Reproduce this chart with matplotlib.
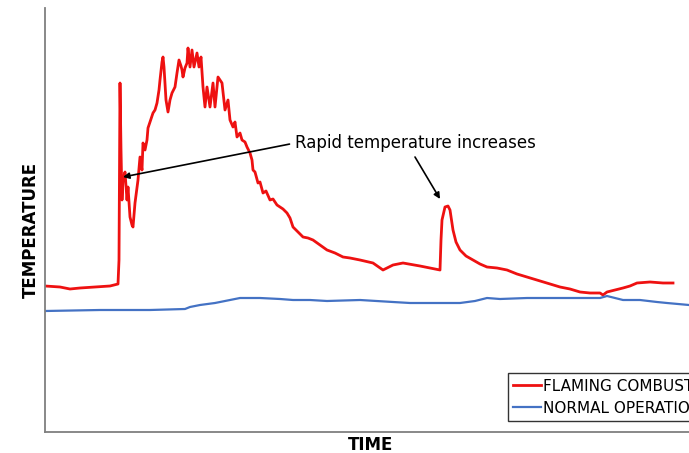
import matplotlib
matplotlib.use("Agg")
import matplotlib.pyplot as plt

# traced readings: time (arbitrary units) and temperature (arbitrary units)
FLAME_T = [0, 15, 25, 35, 50, 65, 73, 74, 75, 76, 77, 78, 80, 82, 83, 85, 87, 88, 90,
           93, 95, 97, 98, 100, 102, 103, 105, 108, 110, 112, 114, 115, 117, 118, 119,
           121, 123, 125, 127, 130, 132, 134, 136, 137, 138, 140, 142, 143, 145, 147,
           149, 151, 152, 154, 156, 158, 160, 162, 165, 168, 170, 173, 175, 177, 180,
           183, 185, 188, 190, 192, 195, 197, 200, 202, 205, 207, 208, 210, 213, 215,
           218, 221, 225, 228, 232, 235, 238, 242, 245, 248, 253, 258, 263, 268, 275,
           282, 290, 298, 305, 315, 328, 338, 348, 358, 375, 385, 395, 396, 397, 400,
           403, 405, 408, 411, 415, 421, 428, 435, 442, 452, 462, 472, 482, 492, 502,
           515, 525, 535, 545, 555, 558, 562, 570, 578, 585, 592, 605, 618, 628]
FLAME_V = [146, 145, 143, 144, 145, 146, 148, 172, 349, 282, 232, 252, 260, 232, 245,
           215, 207, 205, 229, 252, 275, 262, 289, 282, 292, 304, 310, 319, 322, 329,
           342, 352, 370, 375, 365, 332, 320, 332, 339, 345, 359, 372, 366, 362, 355,
           364, 369, 384, 365, 382, 365, 374, 379, 365, 375, 345, 325, 345, 325, 349,
           325, 355, 352, 349, 322, 332, 312, 305, 310, 295, 299, 292, 290, 285, 279,
           272, 262, 260, 249, 250, 239, 241, 232, 233, 227, 225, 223, 219, 214, 205,
           200, 195, 194, 192, 187, 182, 179, 175, 174, 172, 169, 162, 167, 169, 166,
           164, 162, 192, 212, 225, 226, 222, 202, 190, 182, 176, 172, 168, 165, 164,
           162, 158, 155, 152, 149, 145, 143, 140, 139, 139, 137, 140, 142, 144, 146,
           149, 150, 149, 149]

NORMAL_T = [0, 55, 105, 140, 145, 155, 170, 185, 195, 215, 235, 248, 265, 282, 315,
            348, 365, 395, 415, 430, 442, 455, 482, 515, 555, 562, 578, 595, 612, 622,
            644]
NORMAL_V = [121, 122, 122, 123, 125, 127, 129, 132, 134, 134, 133, 132, 132, 131, 132,
            130, 129, 129, 129, 131, 134, 133, 134, 134, 134, 136, 132, 132, 130, 129,
            127]

SERIES = ["FLAMING COMBUSTION", "NORMAL OPERATION"]
NOTE = "Rapid temperature increases"

fig = plt.figure(figsize=(6.89, 4.53), dpi=100)
ax = fig.add_axes([45 / 689, 21 / 453, 652 / 689, 424 / 453])

ax.plot(FLAME_T, FLAME_V, color="#ee1111", lw=2.0, label=SERIES[0])
ax.plot(NORMAL_T, NORMAL_V, color="#4472c4", lw=1.6, label=SERIES[1])

ax.set_xlim(0, 652)
ax.set_ylim(0, 424)
ax.set_xticks([])
ax.set_yticks([])
for side in ["top", "right"]:
    ax.spines[side].set_visible(False)
for side in ["left", "bottom"]:
    ax.spines[side].set_color("#7f7f7f")
    ax.spines[side].set_linewidth(1.3)

ax.set_xlabel("TIME", fontsize=12, fontweight="bold", labelpad=3)
ax.set_ylabel("TEMPERATURE", fontsize=12, fontweight="bold")
ax.yaxis.set_label_coords(-0.008, 0.476)

arrow = dict(arrowstyle="-|>", color="black", lw=1.2, mutation_scale=9,
             shrinkA=2, shrinkB=0)
ax.annotate(NOTE, xy=(78, 255), xytext=(250, 289), fontsize=12,
            va="center", ha="left",
            arrowprops=dict(arrow, relpos=(0, 0.5)))
ax.annotate("", xy=(395, 233), xytext=(370, 275),
            arrowprops=dict(arrow, shrinkA=0))

leg = fig.legend(loc="lower left", bbox_to_anchor=(508 / 689, 32 / 453),
                 fontsize=11, frameon=True, fancybox=False, handlelength=1.8,
                 handletextpad=0.15, borderpad=0.35, labelspacing=0.45,
                 borderaxespad=0)
leg.get_frame().set_edgecolor("black")
leg.get_frame().set_linewidth(1.0)

fig.savefig("out.png", dpi=100)
